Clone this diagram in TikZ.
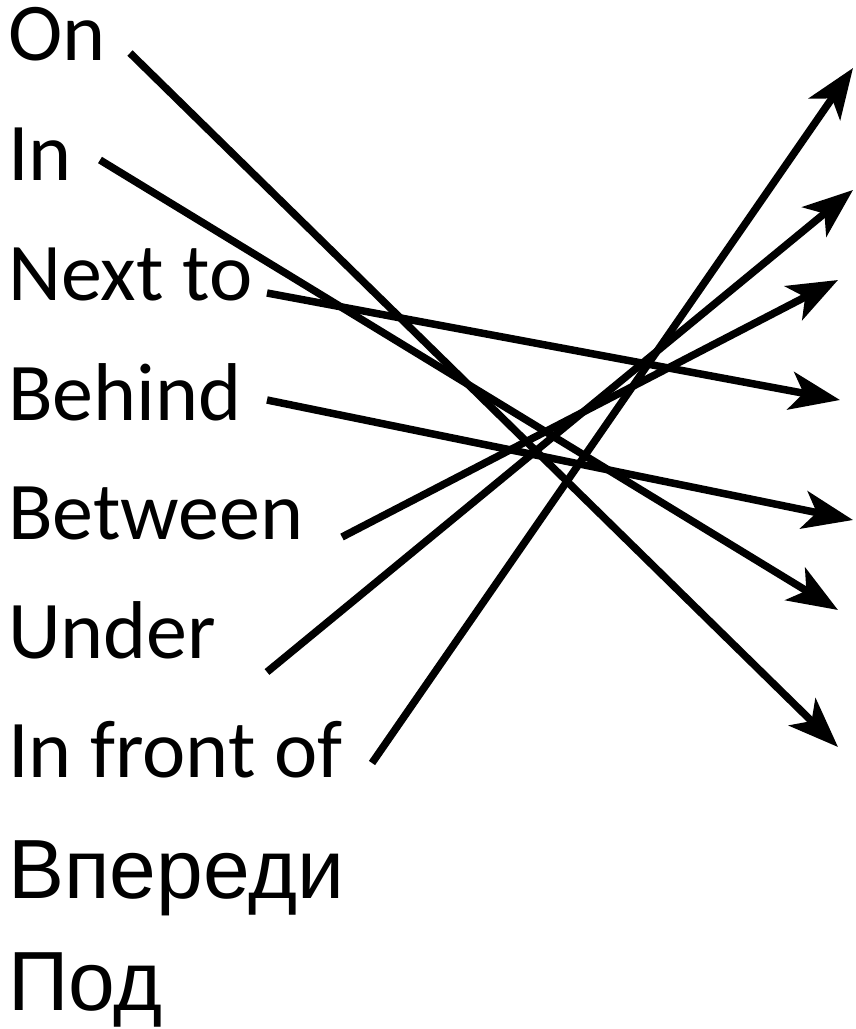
\documentclass[tikz,border=0pt]{standalone}
\usepackage{fontspec}
\usetikzlibrary{arrows.meta, positioning}
\newfontfamily\engfont{Carlito}
\newfontfamily\rufont{Liberation Sans}
\tikzset{
  lbl/.style   = {anchor=base west, inner sep=0pt, font=\engfont\fontsize{82}{96}\selectfont},
  rulbl/.style = {anchor=base west, inner sep=0pt, font=\rufont\fontsize{84}{96}\selectfont},
}

\begin{document}
\begin{tikzpicture}[
    x=1pt, y=-1pt,
    link/.style={-{Stealth[length=50pt, width=38pt, inset=13pt]}, line width=7.5pt, black}
]
\useasboundingbox (0,0) rectangle (855,1029);

% english words
\node[lbl] (on)     at (8,60)  {On};
\node[lbl] (in)     at (8,180) {In};
\node[lbl] (next)   at (8,300) {Next to};
\node[lbl] (behind) at (8,420) {Behind};
\node[lbl] (betw)   at (8,539) {Between};
\node[lbl] (under)  at (8,658) {Under};
\node[lbl] (front)  at (8,777) {In front of};

% russian words
\node[rulbl] (vper) at (8,898)  {Впереди};
\node[rulbl] (pod)  at (8,1010) {Под};

% line starts
\coordinate (on-s)     at (130,53);
\coordinate (in-s)     at (100,160);
\coordinate (next-s)   at (267,293);
\coordinate (behind-s) at (267,400);
\coordinate (betw-s)   at (342,537);
\coordinate (under-s)  at (267,672);
\coordinate (front-s)  at (372,763);

% arrow tips, top to bottom
\coordinate (t1) at (853,68);
\coordinate (t2) at (853,190);
\coordinate (t3) at (838,280);
\coordinate (t4) at (840,400);
\coordinate (t5) at (853,520);
\coordinate (t6) at (838,610);
\coordinate (t7) at (838,747);

\foreach \s/\t in {on-s/t7, in-s/t6, next-s/t4, behind-s/t5, betw-s/t3, under-s/t2, front-s/t1} {
    \draw[link] (\s) -- (\t);
}

\end{tikzpicture}
\end{document}
